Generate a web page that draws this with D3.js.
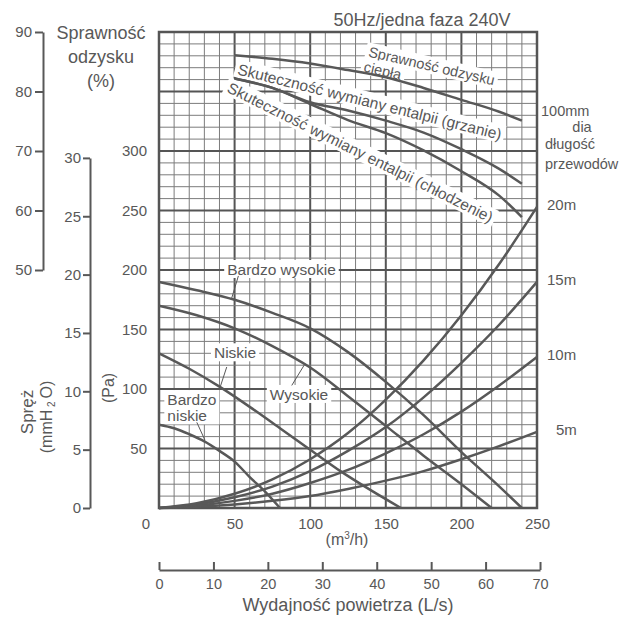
<!DOCTYPE html>
<html>
<head>
<meta charset="utf-8">
<title>Charakterystyka wentylatora</title>
<script src="https://d3js.org/d3.v7.min.js"></script>
<style>
  body { margin: 0; background: #fff; }
  svg { display: block; font-family: "Liberation Sans", Arial, sans-serif; }
</style>
</head>
<body>
<svg width="640" height="618"></svg>
<script>
// fan curves (m3/h -> Pa)
const bnFlow = [0, 10, 20, 30, 40, 50, 60, 70, 80];
const bnPa = [70, 67, 62, 56, 48, 39, 26, 14, 0];
const nFlow = [0, 20, 40, 60, 80, 100, 120, 140, 160];
const nPa = [130, 117, 102, 85, 67, 49, 31, 15, 0];
const wFlow = [0, 25, 50, 75, 100, 125, 150, 175, 200, 220];
const wPa = [170, 162, 151, 136, 118, 94, 69, 44, 20, 0];
const bwFlow = [0, 25, 50, 75, 100, 125, 150, 175, 200, 220, 240];
const bwPa = [190, 183, 175, 164, 151, 131, 106, 78, 47, 24, 0];

// duct resistance curves, 100mm dia
const ductFlow = [0, 25, 50, 75, 100, 125, 150, 175, 200, 225, 250];
const duct5 = [0, 1, 3, 6, 10, 16, 23, 31, 41, 52, 64];
const duct10 = [0, 2, 6, 12, 21, 32, 46, 62, 81, 103, 127];
const duct15 = [0, 3, 9, 18, 31, 48, 68, 93, 122, 154, 190];
const duct20 = [0, 4, 12, 24, 41, 63, 91, 124, 162, 205, 253];
const ductNames = ["5m", "10m", "15m", "20m"];

// efficiency curves (%)
const effFlow = [50, 75, 100, 125, 150, 175, 200, 225, 240];
const effHeat = [86.1, 85.5, 84.7, 83.6, 82.4, 80.6, 78.6, 76.6, 75.1];
const effHeating = [82.2, 80.6, 78.2, 76.8, 75.1, 73.1, 70.3, 67.0, 64.5];
const effCooling = [82.2, 80.6, 77.9, 75.2, 73.0, 70.1, 66.6, 62.5, 58.9];

// tick labels
const flowTicks = [50, 100, 150, 200, 250];
const paTicks = [50, 100, 150, 200, 250, 300];
const effTicks = [50, 60, 70, 80, 90];
const mmTicks = [0, 5, 10, 15, 20, 25, 30];
const lsTicks = [0, 10, 20, 30, 40, 50, 60, 70];

const ink = "#585858";
const svg = d3.select("svg");

const x = d3.scaleLinear().domain([0, 250]).range([159, 537]);
const y = d3.scaleLinear().domain([0, 400]).range([508, 32]);
const yEff = d3.scaleLinear().domain([50, 90]).range([y(200), y(400)]);
const yMm = d3.scaleLinear().domain([0, 30]).range([y(0), y(30 * 9.80665)]);
const xLs = d3.scaleLinear().domain([0, 70]).range([x(0), x(70 * 3.6)]);

// grid
const grid = svg.append("g");
d3.range(0, 251, 10).forEach(v => {
  grid.append("line")
    .attr("x1", x(v)).attr("x2", x(v)).attr("y1", y(0)).attr("y2", y(400))
    .attr("stroke", v % 50 ? "#7c7c7c" : "#555")
    .attr("stroke-width", v % 50 ? 1 : 2);
});
d3.range(0, 401, 10).forEach(v => {
  grid.append("line")
    .attr("x1", x(0)).attr("x2", x(250)).attr("y1", y(v)).attr("y2", y(v))
    .attr("stroke", v % 50 ? "#7c7c7c" : "#555")
    .attr("stroke-width", v % 50 ? 1 : 2);
});
grid.append("rect")
  .attr("x", x(0)).attr("y", y(400))
  .attr("width", x(250) - x(0)).attr("height", y(0) - y(400))
  .attr("fill", "none").attr("stroke", "#555").attr("stroke-width", 2.5);

// plain and boxed text helpers
function label(px, py, txt, size, anchor) {
  return svg.append("text")
    .attr("x", px).attr("y", py)
    .attr("font-size", size).attr("fill", ink)
    .attr("text-anchor", anchor || "start")
    .text(txt);
}
function boxed(px, py, lines, size, anchor, angle) {
  const g = svg.append("g")
    .attr("transform", `translate(${px},${py}) rotate(${angle || 0})`);
  const t = g.append("text").attr("font-size", size).attr("fill", ink)
    .attr("text-anchor", anchor || "start");
  lines.forEach((s, i) => {
    t.append("tspan").attr("x", 0).attr("dy", i ? "1.05em" : 0).text(s);
  });
  const b = t.node().getBBox();
  g.insert("rect", "text")
    .attr("x", b.x - 3).attr("y", b.y - 1)
    .attr("width", b.width + 6).attr("height", b.height + 1)
    .attr("fill", "#fff");
  return g;
}
function leader(x1, y1, x2, y2) {
  svg.append("line")
    .attr("x1", x(x1)).attr("y1", y(y1)).attr("x2", x(x2)).attr("y2", y(y2))
    .attr("stroke", ink).attr("stroke-width", 1);
}

// curve labels
boxed(x(138), yEff(85.9), ["Sprawność odzysku"], 14.5, "start", 13);
boxed(x(135), yEff(83.4), ["ciepła"], 14.5, "start", 13);
boxed(x(51.4), yEff(82.9), ["Skuteczność wymiany entalpii (grzanie)"], 15.5, "start", 14);
boxed(x(44.3), yEff(80.0), ["Skuteczność wymiany entalpii (chłodzenie)"], 15.5, "start", 26.5);

boxed(x(81), y(200) + 5, ["Bardzo wysokie"], 15.5, "middle");
boxed(x(50.3), y(130) + 5, ["Niskie"], 15.5, "middle");
boxed(x(92.6), y(95) + 5, ["Wysokie"], 15.5, "middle");
boxed(x(5.5), y(86.5), ["Bardzo", "niskie"], 15.5, "start");

// curves
const line = d3.line().curve(d3.curveMonotoneX);
function curve(xs, ys, ys2) {
  svg.append("path")
    .attr("d", line(xs.map((v, i) => [x(v), ys2(ys[i])])))
    .attr("fill", "none").attr("stroke", ink).attr("stroke-width", 2.5);
}
curve(bnFlow, bnPa, y);
curve(nFlow, nPa, y);
curve(wFlow, wPa, y);
curve(bwFlow, bwPa, y);
[duct5, duct10, duct15, duct20].forEach(d => curve(ductFlow, d, y));
curve(effFlow, effHeat, yEff);
curve(effFlow, effHeating, yEff);
curve(effFlow, effCooling, yEff);

leader(52.5, 195, 48, 176);
leader(44.8, 118.5, 40.3, 101);
leader(87.8, 103, 96, 120);
leader(25, 72, 30.4, 57);

// left efficiency axis
const effAxis = svg.append("g").attr("transform", "translate(43,0)")
  .call(d3.axisLeft(yEff).tickValues(effTicks).tickSize(8).tickSizeOuter(0).tickPadding(3));
// spręż axis (mmH2O)
const mmAxis = svg.append("g").attr("transform", "translate(90,0)")
  .call(d3.axisLeft(yMm).tickValues(mmTicks).tickSize(7).tickSizeOuter(0).tickPadding(2));
[effAxis, mmAxis].forEach(a => {
  a.selectAll("path, line").attr("stroke", ink).attr("stroke-width", 2);
  a.selectAll("text").attr("font-size", 15).attr("fill", ink).attr("font-family", null);
});

// Pa labels
const paAxis = svg.append("g").attr("transform", `translate(${x(0)},0)`)
  .call(d3.axisLeft(y).tickValues(paTicks).tickSize(0).tickPadding(12));
// flow labels (m3/h)
const flowAxis = svg.append("g").attr("transform", `translate(0,${y(0)})`)
  .call(d3.axisBottom(x).tickValues(flowTicks).tickSize(0).tickPadding(10));
[paAxis, flowAxis].forEach(a => {
  a.select(".domain").remove();
  a.selectAll("text").attr("font-size", 15).attr("fill", ink).attr("font-family", null);
});
label(x(0) - 13, 529, "0", 15, "middle");

// L/s axis
const lsAxis = svg.append("g").attr("transform", "translate(0,570)")
  .call(d3.axisBottom(xLs).tickValues(lsTicks).tickSize(-8).tickSizeOuter(0).tickPadding(9));
lsAxis.selectAll("path, line").attr("stroke", ink).attr("stroke-width", 2);
lsAxis.selectAll("text").attr("font-size", 14.5).attr("fill", ink).attr("font-family", null);

// titles
label(422, 26, "50Hz/jedna faza 240V", 18, "middle");
label(101, 39, "Sprawność", 18, "middle");
label(101, 63, "odzysku", 18, "middle");
label(101, 87, "(%)", 18, "middle");

const m3 = label(347, 545, "(m", 16, "middle");
m3.append("tspan").attr("font-size", 10).attr("dy", -6).text("3");
m3.append("tspan").attr("dy", 6).text("/h)");
label(348, 611, "Wydajność powietrza (L/s)", 18, "middle");

svg.append("text").attr("transform", "translate(33,412) rotate(-90)")
  .attr("font-size", 17).attr("fill", ink).attr("text-anchor", "middle").text("Spręż");
const mm = svg.append("text").attr("transform", "translate(52,417) rotate(-90)")
  .attr("font-size", 16).attr("fill", ink).attr("text-anchor", "middle");
mm.append("tspan").text("(mmH");
mm.append("tspan").attr("font-size", 10).attr("dy", 3).text(" 2 ");
mm.append("tspan").attr("dy", -3).text("O)");
svg.append("text").attr("transform", "translate(114,388) rotate(-90)")
  .attr("font-size", 16).attr("fill", ink).attr("text-anchor", "middle").text("(Pa)");

// duct length labels
label(541, 116, "100mm", 14.5);
label(582, 132, "dia", 14.5, "middle");
label(545, 149, "długość", 14.5);
label(545, 169, "przewodów", 14.5);
[duct5, duct10, duct15, duct20].forEach((d, i) => {
  label(i ? 547 : 556, y(d[d.length - 1]) + 3, ductNames[i], 15);
});
</script>
</body>
</html>
